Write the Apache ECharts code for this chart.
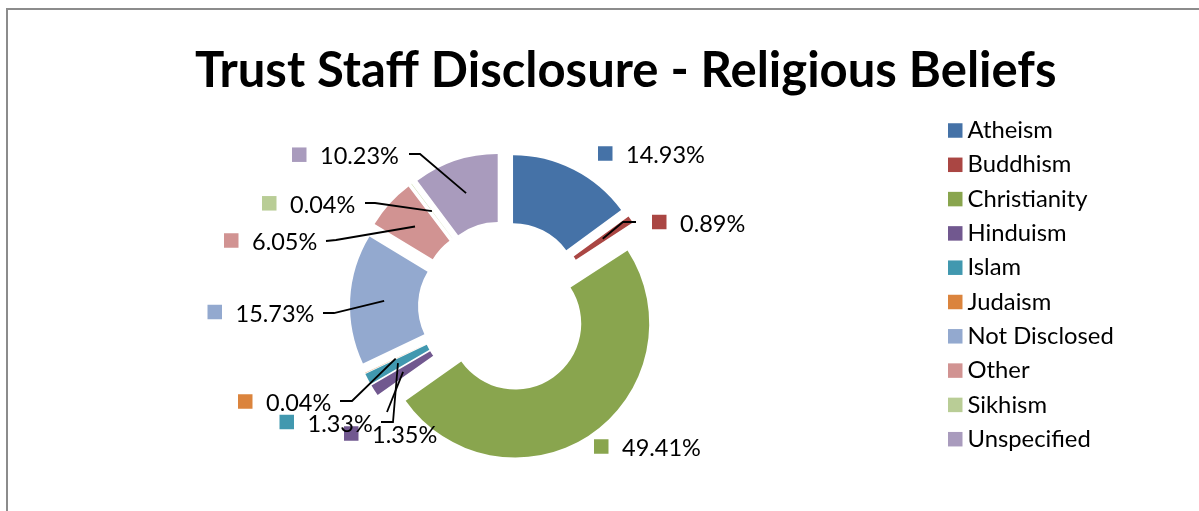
<!DOCTYPE html>
<html>
<head>
<meta charset="utf-8">
<title>Trust Staff Disclosure - Religious Beliefs</title>
<script src="https://cdn.jsdelivr.net/npm/echarts@6/dist/echarts.min.js"></script>
<style>
  html, body { margin: 0; padding: 0; background: #fff; }
  #wrap { position: relative; width: 1199px; height: 511px; overflow: hidden; }
  #chart { position: absolute; left: 0; top: 0; width: 1199px; height: 511px; }
  .edge { position: absolute; background: #8c8c8c; }
</style>
</head>
<body>
<div id="wrap">
  <div id="chart"></div>
  <div class="edge" style="left:6px; top:8px; width:1193px; height:2px;"></div>
  <div class="edge" style="left:6px; top:8px; width:2px; height:503px;"></div>
</div>
<script>
// Religious belief categories and their share of staff (%)
const categories = ['Atheism', 'Buddhism', 'Christianity', 'Hinduism', 'Islam',
                    'Judaism', 'Not Disclosed', 'Other', 'Sikhism', 'Unspecified'];
const shares = [14.93, 0.89, 49.41, 1.35, 1.33, 0.04, 15.73, 6.05, 0.04, 10.23];
const colors = ['#4572A7', '#AA4643', '#89A54E', '#71588F', '#4198AF',
                '#DB843D', '#93A9CF', '#D19392', '#B9CD96', '#A99BBD'];

// Ring geometry: every slice is pushed out from the centre by EXPLODE px
const CX = 504, CY = 307, R_IN = 66, R_OUT = 134, EXPLODE = 20;

// Data label placement: left edge of the key square and its vertical centre
const labelAnchors = [
  [598, 153.5], [652, 222], [594, 446.5], [344, 433.5], [279.5, 422],
  [238, 401.5], [207.5, 312], [224, 240.5], [262, 203.3], [292, 154.7]
];
// Label-side points of each leader line (null = label needs no leader)
const leaderStarts = [
  null, [[636, 222], [623, 222]], null, [[387, 412]], [[381, 422], [393, 422]],
  [[340, 401], [352, 401]], [[323, 313], [334, 313]], [[326, 241], [336, 240]],
  [[365, 203], [375, 203]], [[409, 154], [420, 154]]
];

const total = shares.reduce((a, b) => a + b, 0);
const FONT = 'Lato';

// Share of the ring before slice i (clockwise from 12 o'clock)
function shareBefore(i) {
  let s = 0;
  for (let k = 0; k < i; k++) s += shares[k];
  return s;
}
// Unit direction of slice i's mid angle (screen coords, y down)
function midDir(i) {
  const a = (shareBefore(i) + shares[i] / 2) / total * 2 * Math.PI;
  return [Math.sin(a), -Math.cos(a)];
}
// Centre of the exploded slice i
function sliceCenter(i) {
  const d = midDir(i);
  return [CX + EXPLODE * d[0], CY + EXPLODE * d[1]];
}
// Middle of the ring along slice i's mid angle, where its leader line ends
function sliceMidPoint(i) {
  const d = midDir(i), c = sliceCenter(i), r = (R_IN + R_OUT) / 2;
  return [c[0] + r * d[0], c[1] + r * d[1]];
}

// One pie per slice so each can be offset along its own mid angle;
// the rest of each ring is an invisible filler.
const series = categories.map((name, i) => ({
  type: 'pie',
  name: name,
  center: sliceCenter(i),
  radius: [R_IN, R_OUT],
  startAngle: 90 - shareBefore(i) / total * 360,
  clockwise: true,
  avoidLabelOverlap: false,
  minAngle: 0,
  silent: true,
  emphasis: { disabled: true },
  label: { show: false },
  labelLine: { show: false },
  itemStyle: { borderWidth: 0 },
  data: [
    { name: name, value: shares[i], itemStyle: { color: colors[i] } },
    { name: '', value: total - shares[i], itemStyle: { color: 'rgba(0,0,0,0)' } }
  ]
}));

// Data labels: coloured key square + value, with leader lines into the ring
const labelGraphics = [];
categories.forEach((name, i) => {
  const a = labelAnchors[i];
  if (leaderStarts[i]) {
    labelGraphics.push({
      type: 'polyline',
      z: 100,
      silent: true,
      shape: { points: leaderStarts[i].concat([sliceMidPoint(i)]) },
      style: { stroke: '#000', lineWidth: 1.8, fill: null }
    });
  }
  labelGraphics.push({
    type: 'rect',
    z: 100,
    silent: true,
    shape: { x: a[0], y: a[1] - 7.25, width: 14.5, height: 14.5 },
    style: { fill: colors[i] }
  });
  labelGraphics.push({
    type: 'text',
    z: 100,
    silent: true,
    x: a[0] + 28,
    y: a[1] + 2,
    style: {
      text: shares[i].toFixed(2) + '%',
      fill: '#000',
      font: '23.5px ' + FONT,
      align: 'left',
      verticalAlign: 'middle'
    }
  });
});

const chart = echarts.init(document.getElementById('chart'), null, { renderer: 'canvas' });

chart.setOption({
  backgroundColor: 'transparent',
  animation: false,
  title: {
    text: 'Trust Staff Disclosure - Religious Beliefs',
    left: 195,
    top: 47,
    padding: 0,
    textStyle: { fontFamily: FONT, fontWeight: 'bold', fontSize: 49, color: '#000' }
  },
  legend: {
    orient: 'vertical',
    left: 948,
    top: 118.5,
    padding: 0,
    icon: 'rect',
    itemWidth: 14.5,
    itemHeight: 14.5,
    itemGap: 10.3,
    itemTextGap: 11,
    selectedMode: false,
    data: categories.map((name, i) => ({ name: name, itemStyle: { color: colors[i] } })),
    itemStyle: { borderWidth: 0 },
    textStyle: { fontFamily: FONT, fontSize: 23.8, color: '#000', lineHeight: 24 }
  },
  graphic: labelGraphics,
  series: series
});
</script>
</body>
</html>
